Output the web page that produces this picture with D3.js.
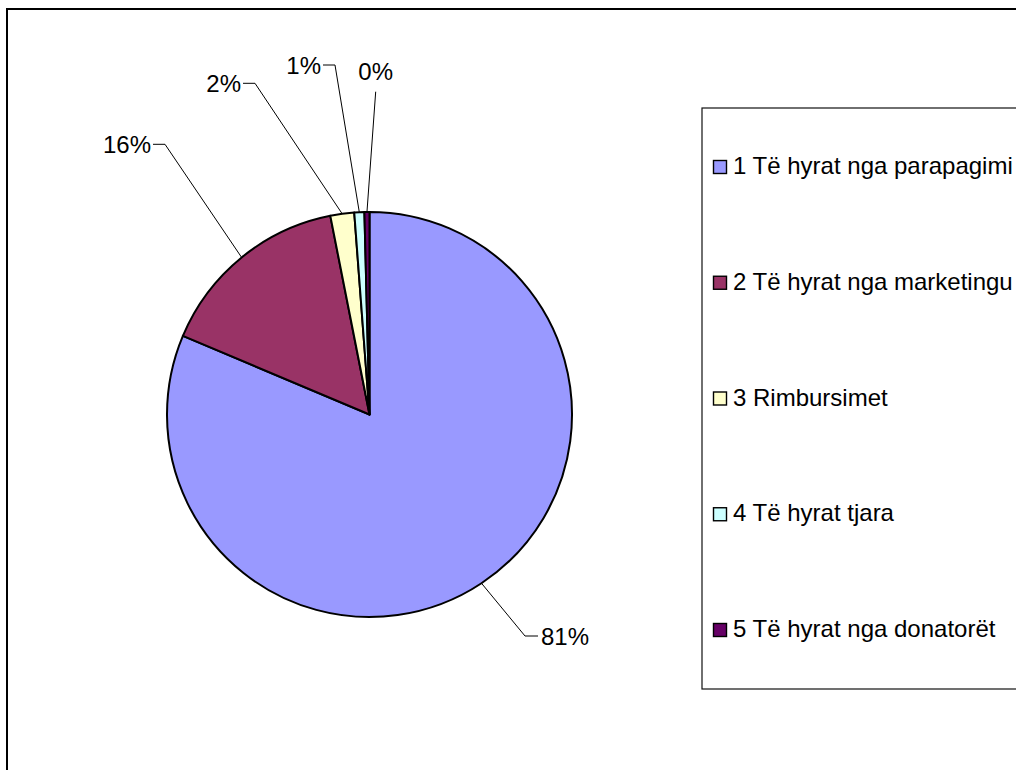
<!DOCTYPE html>
<html>
<head>
<meta charset="utf-8">
<script src="https://cdn.jsdelivr.net/npm/d3@7"></script>
<style>
  body { margin: 0; background: #fff; }
  text { font-family: "Liberation Sans", Arial, sans-serif; }
</style>
</head>
<body>
<div class="chart"></div>
<script>
// Data (shares)
var categories = [
  "1 Të hyrat nga parapagimi",
  "2 Të hyrat nga marketingu",
  "3 Rimbursimet",
  "4 Të hyrat tjara",
  "5 Të hyrat nga donatorët"
];
var values = [81.35, 15.55, 1.9, 0.8, 0.4];
var colors = ["#9999FF", "#993366", "#FFFFCC", "#CCFFFF", "#660066"];

// label elbow offsets from the pie centre, the way the labels were dragged in the original
var labelLayout = [
  { dx: 155.5, dy: 221.5, side: "right" },
  { dx: -204.5, dy: -270.2, side: "left" },
  { dx: -114.5, dy: -331.2, side: "left" },
  { dx: -34.5, dy: -349.5, side: "left" },
  { dx: 6.2, dy: -322.8, side: "above" }
];

var svgWidth = 1016;
var svgHeight = 770;
var cx = 369.5, cy = 414.5, radius = 202.5;

var svg = d3.select(".chart")
  .append("svg")
  .attr("width", svgWidth)
  .attr("height", svgHeight);

// outer chart frame (runs past the window on right and bottom)
svg.append("rect")
  .attr("x", 7)
  .attr("y", 9)
  .attr("width", 1200)
  .attr("height", 900)
  .attr("fill", "#fff")
  .attr("stroke", "#000")
  .attr("stroke-width", 2);

var total = d3.sum(values);
var pie = d3.pie().sort(null).value(function(d) { return d; });
var arcs = pie(values);
var arc = d3.arc().innerRadius(0).outerRadius(radius);

var pieGroup = svg.append("g")
  .attr("transform", `translate(${cx}, ${cy})`);

pieGroup.selectAll("path.slice")
  .data(arcs)
  .enter()
  .append("path")
  .attr("class", "slice")
  .attr("d", arc)
  .attr("fill", function(d, i) { return colors[i]; })
  .attr("stroke", "#000")
  .attr("stroke-width", 2)
  .attr("stroke-linejoin", "round");

// leader lines + percentage labels
var fmt = function(v) { return Math.round(v / total * 100) + "%"; };

arcs.forEach(function(d, i) {
  var mid = (d.startAngle + d.endAngle) / 2;
  var ax = Math.sin(mid) * radius;
  var ay = -Math.cos(mid) * radius;
  var L = labelLayout[i];
  var pts, tx, ty, anchor;

  if (L.side === "right") {
    pts = [[ax, ay], [L.dx, L.dy], [L.dx + 13, L.dy]];
    tx = L.dx + 16; ty = L.dy + 8.5; anchor = "start";
  } else if (L.side === "left") {
    pts = [[ax, ay], [L.dx, L.dy], [L.dx - 12, L.dy]];
    tx = L.dx - 14; ty = L.dy + 8.5; anchor = "end";
  } else {
    pts = [[ax, ay], [L.dx, L.dy]];
    tx = L.dx; ty = L.dy - 11.5; anchor = "middle";
  }

  pieGroup.append("path")
    .attr("d", d3.line()(pts))
    .attr("fill", "none")
    .attr("stroke", "#000")
    .attr("stroke-width", 1);

  pieGroup.append("text")
    .attr("x", tx)
    .attr("y", ty)
    .attr("text-anchor", anchor)
    .attr("font-size", 24)
    .attr("fill", "#000")
    .text(fmt(d.value));
});

// legend
svg.append("rect")
  .attr("x", 702)
  .attr("y", 108)
  .attr("width", 500)
  .attr("height", 581)
  .attr("fill", "#fff")
  .attr("stroke", "#111")
  .attr("stroke-width", 1.2);

var legendY = d3.scalePoint()
  .domain(categories)
  .range([167, 630]);

var items = svg.selectAll("g.legend-item")
  .data(categories)
  .enter()
  .append("g")
  .attr("class", "legend-item")
  .attr("transform", function(d) { return `translate(713, ${legendY(d)})`; });

items.append("rect")
  .attr("x", 0.5)
  .attr("y", -6.5)
  .attr("width", 13)
  .attr("height", 13)
  .attr("fill", function(d, i) { return colors[i]; })
  .attr("stroke", "#000")
  .attr("stroke-width", 1.4);

items.append("text")
  .attr("x", 20)
  .attr("y", 7)
  .attr("font-size", 24)
  .attr("fill", "#000")
  .text(function(d) { return d; });
</script>
</body>
</html>
